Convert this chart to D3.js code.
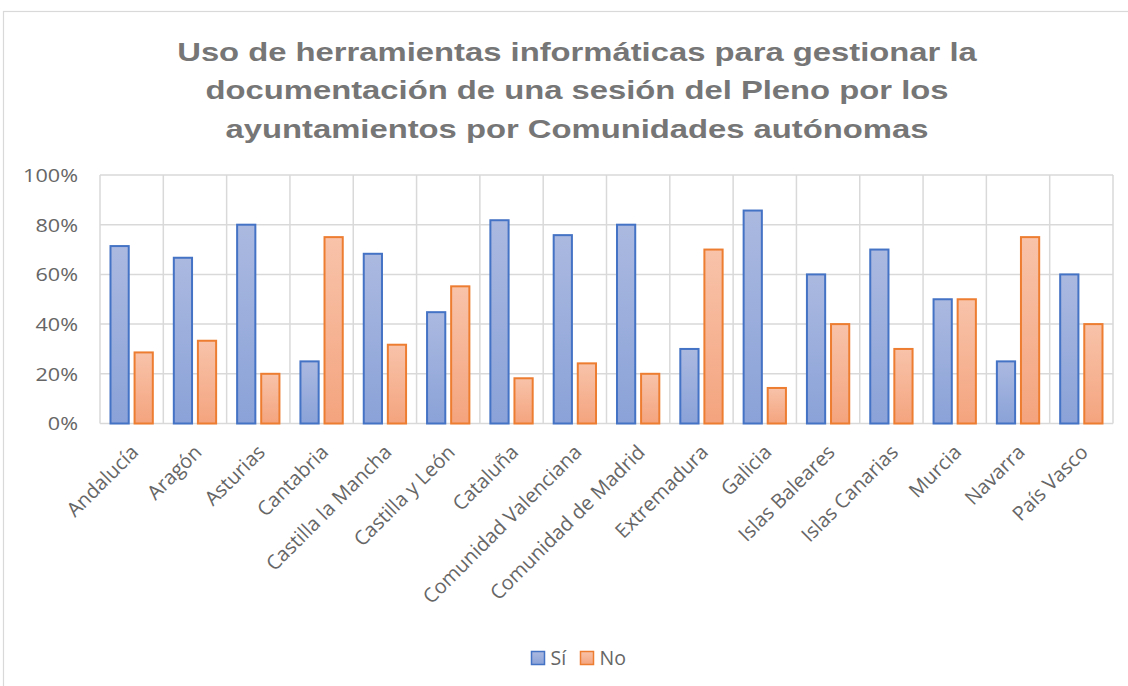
<!DOCTYPE html>
<html><head><meta charset="utf-8">
<script src="https://cdn.jsdelivr.net/npm/d3@7"></script>
<style>body{margin:0;background:#fff}svg{display:block}</style>
</head><body>
<svg id="c" width="1128" height="686"></svg>
<script>
const categories = ["Andalucía","Aragón","Asturias","Cantabria","Castilla la Mancha","Castilla y León","Cataluña","Comunidad Valenciana","Comunidad de Madrid","Extremadura","Galicia","Islas Baleares","Islas Canarias","Murcia","Navarra","País Vasco"];
const seriesNames = ["Sí","No"];
const si = [71.4,66.7,80,25,68.3,44.8,81.8,75.8,80,30,85.7,60,70,50,25,60];
const no = [28.6,33.3,20,75,31.7,55.2,18.2,24.2,20,70,14.3,40,30,50,75,40];
const yTicks = [0,20,40,60,80,100];
const titleLines = ["Uso de herramientas informáticas para gestionar la","documentación de una sesión del Pleno por los","ayuntamientos por Comunidades autónomas"];

const svg = d3.select("#c");
const M = {left:100, right:1113, top:175, bottom:423.5};
const font = "'Open Sans', 'Noto Sans', sans-serif";

// border
svg.append("rect").attr("x",3.5).attr("y",11.5).attr("width",1140).attr("height",700)
  .attr("fill","none").attr("stroke","#d9d9d9").attr("stroke-width",1.2);

// gradients
const defs = svg.append("defs");
const gradSpec = {"Sí":["#abb9e0","#8aa2d8"],"No":["#f8c3aa","#f4a47e"]};
const strokes = {"Sí":"#4472c4","No":"#ed7d31"};
Object.entries(gradSpec).forEach(([k,c],i)=>{
  const g = defs.append("linearGradient").attr("id","g"+i).attr("x1",0).attr("y1",0).attr("x2",0).attr("y2",1);
  g.append("stop").attr("offset","0%").attr("stop-color",c[0]);
  g.append("stop").attr("offset","100%").attr("stop-color",c[1]);
});
const gradId = {"Sí":"url(#g0)","No":"url(#g1)"};

// title (horizontally stretched to match the reference's wide lettering)
const titleG = svg.append("g").attr("transform","translate(577,0)");
const t = titleG.append("text").attr("text-anchor","middle").attr("fill","#767676")
  .attr("font-family","'Liberation Sans', Arial, sans-serif").attr("font-weight","bold").attr("font-size",25);
titleLines.forEach((l,i)=>t.append("tspan").attr("x",0).attr("y",60.7+i*38.8).text(l));
const firstLen = t.select("tspan").node().getComputedTextLength();
t.attr("transform",`scale(${800/firstLen},1)`);

const x0 = d3.scaleBand().domain(categories).range([M.left,M.right]).padding(0);
const bw = x0.bandwidth();
const x1 = d3.scaleBand().domain(seriesNames).range([0.15*bw,0.85*bw]).paddingInner(0.16);
const y = d3.scaleLinear().domain([0,100]).range([M.bottom,M.top]);

// gridlines
const grid = svg.append("g").attr("stroke","#d9d9d9").attr("stroke-width",1.5);
yTicks.forEach(v=>grid.append("line").attr("x1",M.left).attr("x2",M.right).attr("y1",y(v)).attr("y2",y(v)));
categories.concat([null]).forEach((c,i)=>{
  const xx = c===null? M.right : x0(c);
  grid.append("line").attr("x1",xx).attr("x2",xx).attr("y1",M.top).attr("y2",M.bottom);
});

// y axis
const yAxis = svg.append("g").attr("transform",`translate(${M.left-22},0)`)
  .call(d3.axisLeft(y).tickValues(yTicks).tickFormat(d=>d+"%").tickSize(0).tickPadding(0));
yAxis.select(".domain").remove();
yAxis.selectAll("text").attr("fill","#666666").attr("font-size",18).attr("font-family",font)
  .attr("x",0).attr("dy","0.36em").attr("transform","scale(1.2,1)");

// bars
const data = categories.map((c,i)=>({c, vals:[{k:"Sí",v:si[i]},{k:"No",v:no[i]}]}));
const groups = svg.append("g").selectAll("g").data(data).join("g").attr("transform",d=>`translate(${x0(d.c)},0)`);
groups.selectAll("rect").data(d=>d.vals).join("rect")
  .attr("x",d=>x1(d.k)+1).attr("width",x1.bandwidth()-2)
  .attr("y",d=>y(d.v)).attr("height",d=>y(0)-y(d.v))
  .attr("fill",d=>gradId[d.k]).attr("stroke",d=>strokes[d.k]).attr("stroke-width",2);

// x axis labels
const xAxis = svg.append("g").attr("transform",`translate(0,${M.bottom})`)
  .call(d3.axisBottom(x0).tickSize(0).tickPadding(0));
xAxis.select(".domain").remove();
xAxis.selectAll("text").attr("fill","#666666").attr("font-size",20).attr("font-family",font)
  .attr("text-anchor","end").attr("x",0).attr("y",0).attr("dy",0)
  .attr("transform","translate(8,30) rotate(-45)");

// legend
const legend = svg.append("g").attr("font-family",font).attr("font-size",19.5).attr("fill","#666666");
const lx = [531.5,580.5];
seriesNames.forEach((s,i)=>{
  legend.append("rect").attr("x",lx[i]).attr("y",651.5).attr("width",13).attr("height",13)
    .attr("fill",gradId[s]).attr("stroke",strokes[s]).attr("stroke-width",1.5);
  legend.append("text").attr("x",lx[i]+19).attr("y",664.5).text(s);
});
</script>
</body></html>
